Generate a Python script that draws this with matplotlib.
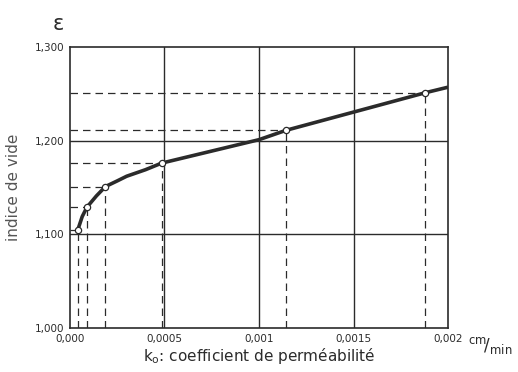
import matplotlib.pyplot as plt
import numpy as np

# points relevés (k0 en cm/min, indice de vide)
k_pts = [0.000042, 0.00009, 0.000188, 0.000485, 0.001143, 0.001878]
e_pts = [1.105, 1.129, 1.151, 1.176, 1.211, 1.251]

# tracé de la courbe
k_curve = [0.000042, 0.000065, 0.00009, 0.00014, 0.000188, 0.00025, 0.0003, 0.0004, 0.000485,
           0.001, 0.001143, 0.001878, 0.002]
e_curve = [1.105, 1.119, 1.129, 1.141, 1.151, 1.157, 1.162, 1.169, 1.176,
           1.201, 1.211, 1.251, 1.257]

x_ticks = [0.0, 0.0005, 0.001, 0.0015, 0.002]
x_labels = ["0,000", "0,0005", "0,001", "0,0015", "0,002"]
y_ticks = [1.0, 1.1, 1.2, 1.3]
y_labels = ["1,000", "1,100", "1,200", "1,300"]

fig = plt.figure(figsize=(5.18, 3.72), dpi=100)
ax = fig.add_axes([0.135, 0.118, 0.73, 0.756])

col = "#2b2b2b"
ax.set_xlim(0, 0.002)
ax.set_ylim(1.0, 1.3)

# grille
for xv in x_ticks[1:-1]:
    ax.axvline(xv, color=col, lw=1.0, zorder=1)
for yv in y_ticks[1:-1]:
    ax.axhline(yv, color=col, lw=1.0, zorder=1)

# lignes de rappel
for k, e in zip(k_pts, e_pts):
    ax.plot([0, k], [e, e], color=col, lw=0.9, ls=(0, (6, 4)), zorder=2)
    ax.plot([k, k], [1.0, e], color=col, lw=0.9, ls=(0, (6, 4)), zorder=2)

ax.plot(k_curve, e_curve, color=col, lw=2.6, solid_capstyle="butt", solid_joinstyle="round", zorder=3)
ax.plot(k_pts, e_pts, "o", ms=4.5, mfc="white", mec=col, mew=0.9, zorder=4)

for s in ax.spines.values():
    s.set_color(col)
    s.set_linewidth(1.2)

ax.set_xticks(x_ticks)
ax.set_xticklabels(x_labels, fontsize=7.5, color=col)
ax.set_yticks(y_ticks)
ax.set_yticklabels(y_labels, fontsize=7.5, color=col)
ax.tick_params(length=0, pad=4)

ax.set_ylabel("indice de vide", fontsize=11, color="#555555", labelpad=10)
ax.set_xlabel("k$_\\mathrm{o}$: coefficient de perméabilité", fontsize=11, color=col, labelpad=2)

fig.text(0.112, 0.935, "ε", fontsize=15, color=col, ha="center", va="center")
fig.text(0.903, 0.07, r"$^{\mathrm{cm}}\!/_{\mathrm{min}}$", fontsize=12, color=col,
         ha="left", va="center")

fig.savefig("out.png", dpi=100, facecolor="white")
